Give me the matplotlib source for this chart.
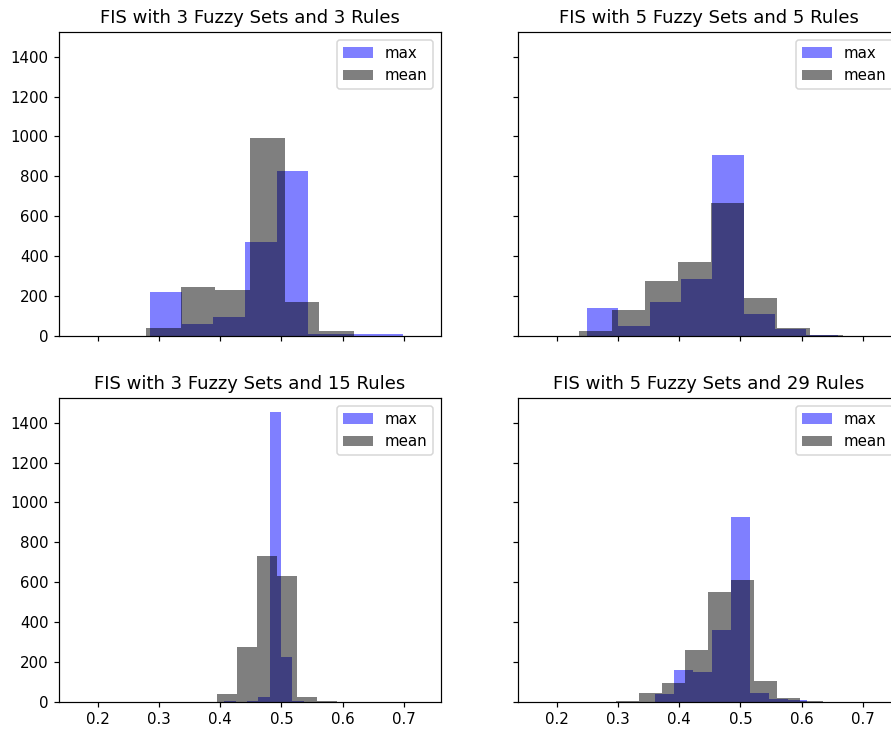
import numpy as np
import matplotlib
matplotlib.use("Agg")
import matplotlib.pyplot as plt

titles = [
    "FIS with 3 Fuzzy Sets and 3 Rules",
    "FIS with 5 Fuzzy Sets and 5 Rules",
    "FIS with 3 Fuzzy Sets and 15 Rules",
    "FIS with 5 Fuzzy Sets and 29 Rules",
]

# data range (min, max) of each series, histograms use 10 equal bins
max_range = [(0.1819, 0.6989), (0.1982, 0.7100), (0.4065, 0.5915), (0.3290, 0.6390)]
mean_range = [(0.1653, 0.7320), (0.1831, 0.7220), (0.2981, 0.6231), (0.2973, 0.6713)]

# counts per bin
max_counts = [
    [1, 0, 221, 58, 97, 472, 827, 12, 8, 8],
    [1, 138, 52, 172, 285, 908, 108, 35, 3, 2],
    [5, 1, 6, 25, 1451, 226, 3, 1, 0, 1],
    [2, 40, 162, 152, 363, 928, 47, 17, 8, 1],
]
mean_counts = [
    [1, 0, 38, 248, 232, 990, 172, 25, 0, 1],
    [1, 25, 130, 277, 373, 667, 188, 38, 4, 2],
    [1, 0, 0, 42, 275, 730, 630, 25, 3, 0],
    [3, 47, 95, 263, 553, 613, 107, 22, 6, 1],
]

W, H = 891, 731
DPI = 108
fig = plt.figure(figsize=(W / DPI, H / DPI), dpi=DPI)

def frac(left, top, right, bottom):
    return [left / W, (H - bottom) / H, (right - left) / W, (bottom - top) / H]

boxes = [
    frac(59, 32, 441, 336),
    frac(518, 32, 900, 336),
    frac(59, 398, 441, 702),
    frac(518, 398, 900, 702),
]

axes = []
for i, box in enumerate(boxes):
    if i == 0:
        ax = fig.add_axes(box)
    else:
        ax = fig.add_axes(box, sharex=axes[0], sharey=axes[0])
    axes.append(ax)

for i, ax in enumerate(axes):
    e1 = np.linspace(max_range[i][0], max_range[i][1], 11)
    e2 = np.linspace(mean_range[i][0], mean_range[i][1], 11)
    ax.hist(e1[:-1], bins=e1, weights=max_counts[i], color="blue", alpha=0.5, label="max")
    ax.hist(e2[:-1], bins=e2, weights=mean_counts[i], color="black", alpha=0.5, label="mean")
    ax.set_title(titles[i], fontsize=12)
    ax.legend(loc="upper right")
    if i in (1, 3):
        ax.tick_params(labelleft=False)
    if i in (0, 1):
        ax.tick_params(labelbottom=False)

axes[0].set_xticks([0.2, 0.3, 0.4, 0.5, 0.6, 0.7])
axes[0].set_yticks([0, 200, 400, 600, 800, 1000, 1200, 1400])

fig.savefig("out.png", dpi=DPI)
